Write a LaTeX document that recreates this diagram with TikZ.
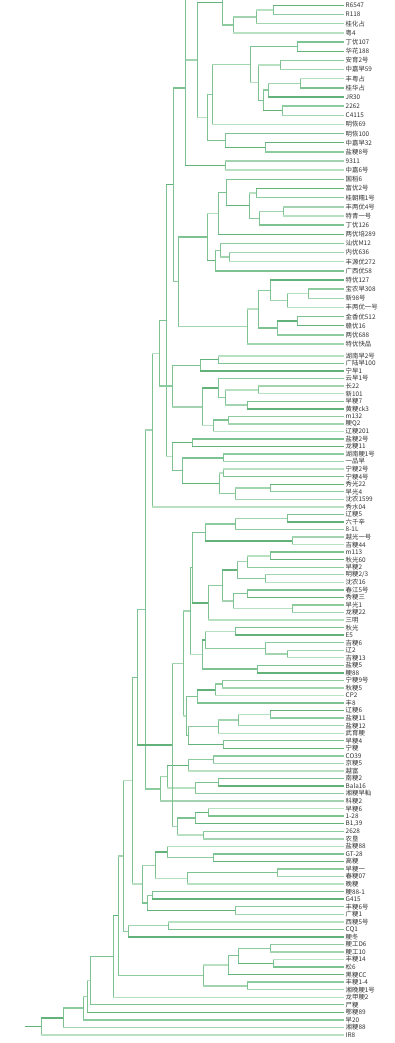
\documentclass[tikz,border=0pt]{standalone}
\usepackage{fontspec}
\newfontfamily\cjk{Noto Sans CJK SC}
\usetikzlibrary{calc}
\definecolor{g0}{RGB}{124,195,145}
\definecolor{g1}{RGB}{162,213,175}
\definecolor{g2}{RGB}{98,178,122}
\definecolor{g3}{RGB}{184,225,194}
\definecolor{g4}{RGB}{140,203,157}
\definecolor{vl}{RGB}{126,194,146}
\tikzset{
  hl/.style={line width=1.4pt},
  vline/.style={draw=vl, line width=0.8pt},
  lab/.style={font=\cjk\fontsize{6.4}{6.4}\selectfont, anchor=west, inner sep=0pt, text=black!80},
}
\newcount\jc
\newcommand\leaf[2]{%
  \pgfmathsetmacro\ly{#1<39 ? 5.5+9.15*(#1-1) : 356+7.544*(#1-39)}%
  \coordinate (L#1) at (344,\ly);%
  \node[lab] (T#1) at (345.5,\ly) {#2};%
  \pgfmathtruncatemacro\cc{mod(#1*7,5)}%
  \expandafter\xdef\csname cc L#1\endcsname{g\cc}%
}
\newcommand\jn[4]{%
  \coordinate (M#1) at ($(#3)!.5!(#4)$);%
  \coordinate (X#1) at (#2,0);%
  \coordinate (#1) at (M#1 -| X#1);%
  \draw[vline] (#3 -| X#1) -- (#4 -| X#1);%
  \edef\tmpa{\csname cc #3\endcsname}\edef\tmpb{\csname cc #4\endcsname}%
  \draw[hl, draw=\tmpa] (#3 -| X#1) -- (#3);%
  \draw[hl, draw=\tmpb] (#4 -| X#1) -- (#4);%
  \global\advance\jc by 1
  \pgfmathtruncatemacro\cc{mod(\the\jc*3,5)}%
  \expandafter\xdef\csname cc #1\endcsname{g\cc}%
}
\begin{document}
\begin{tikzpicture}[x=1pt,y=-1pt]
\useasboundingbox (0,0) rectangle (394,1043);
\fill[white] (0,0) rectangle (394,1043);
\clip (0,0) rectangle (394,1043);
\coordinate (P1) at (344,-20); \expandafter\xdef\csname cc P1\endcsname{g0}
\coordinate (P2) at (344,-40); \expandafter\xdef\csname cc P2\endcsname{g1}
\leaf{1}{R6547}
\leaf{2}{R118}
\leaf{3}{桂化占}
\leaf{4}{粤4}
\leaf{5}{丁优107}
\leaf{6}{华花188}
\leaf{7}{安育2号}
\leaf{8}{中嘉早59}
\leaf{9}{丰粤占}
\leaf{10}{桂华占}
\leaf{11}{JR30}
\leaf{12}{2262}
\leaf{13}{C4115}
\leaf{14}{明恢69}
\leaf{15}{明恢100}
\leaf{16}{中嘉早32}
\leaf{17}{盐粳8号}
\leaf{18}{9311}
\leaf{19}{中嘉6号}
\leaf{20}{国稻6}
\leaf{21}{富优2号}
\leaf{22}{桂朝糯1号}
\leaf{23}{丰两优4号}
\leaf{24}{特青一号}
\leaf{25}{丁优126}
\leaf{26}{两优培289}
\leaf{27}{汕优M12}
\leaf{28}{内优636}
\leaf{29}{丰源优272}
\leaf{30}{广西优58}
\leaf{31}{特优127}
\leaf{32}{宝农早308}
\leaf{33}{新98号}
\leaf{34}{丰两优一号}
\leaf{35}{金香优512}
\leaf{36}{赣优16}
\leaf{37}{两优688}
\leaf{38}{特优快品}
\leaf{39}{湖南早2号}
\leaf{40}{广陆早100}
\leaf{41}{宁早1}
\leaf{42}{云早1号}
\leaf{43}{长22}
\leaf{44}{新101}
\leaf{45}{早粳7}
\leaf{46}{黄粳ck3}
\leaf{47}{m132}
\leaf{48}{粳Q2}
\leaf{49}{辽粳201}
\leaf{50}{盐粳2号}
\leaf{51}{龙粳11}
\leaf{52}{湖南粳1号}
\leaf{53}{一品早}
\leaf{54}{宁粳2号}
\leaf{55}{宁粳4号}
\leaf{56}{秀光22}
\leaf{57}{早光4}
\leaf{58}{沈农1599}
\leaf{59}{秀水04}
\leaf{60}{辽粳5}
\leaf{61}{六千辛}
\leaf{62}{8-1L}
\leaf{63}{越光一号}
\leaf{64}{吉粳44}
\leaf{65}{m113}
\leaf{66}{秋光60}
\leaf{67}{早粳2}
\leaf{68}{明粳2/3}
\leaf{69}{沈农16}
\leaf{70}{春江5号}
\leaf{71}{秀粳三}
\leaf{72}{早光1}
\leaf{73}{龙粳22}
\leaf{74}{三明}
\leaf{75}{秋光}
\leaf{76}{E5}
\leaf{77}{吉粳6}
\leaf{78}{辽2}
\leaf{79}{吉粳13}
\leaf{80}{盐粳5}
\leaf{81}{粳88}
\leaf{82}{宁粳9号}
\leaf{83}{秋粳5}
\leaf{84}{CP2}
\leaf{85}{丰8}
\leaf{86}{辽粳6}
\leaf{87}{盐粳11}
\leaf{88}{盐粳12}
\leaf{89}{武育粳}
\leaf{90}{早粳4}
\leaf{91}{宁粳}
\leaf{92}{CO39}
\leaf{93}{京粳5}
\leaf{94}{越富}
\leaf{95}{南粳2}
\leaf{96}{Bala16}
\leaf{97}{湘粳早籼}
\leaf{98}{科粳2}
\leaf{99}{早粳6}
\leaf{100}{1-28}
\leaf{101}{B1,39}
\leaf{102}{2628}
\leaf{103}{农垦}
\leaf{104}{盐粳88}
\leaf{105}{GT-28}
\leaf{106}{高粳}
\leaf{107}{早粳一}
\leaf{108}{春粳07}
\leaf{109}{晚粳}
\leaf{110}{粳88-1}
\leaf{111}{G415}
\leaf{112}{丰粳6号}
\leaf{113}{广粳1}
\leaf{114}{西粳5号}
\leaf{115}{CQ1}
\leaf{116}{粳冬}
\leaf{117}{粳工D6}
\leaf{118}{粳工10}
\leaf{119}{丰粳14}
\leaf{120}{松6}
\leaf{121}{黑粳CC}
\leaf{122}{丰粳1-4}
\leaf{123}{湘晚粳1号}
\leaf{124}{龙甲粳2}
\leaf{125}{尸粳}
\leaf{126}{鄂粳89}
\leaf{127}{早20}
\leaf{128}{湘粳88}
\leaf{129}{IR8}
% region A
\jn{a1}{273}{L1}{L2}
\jn{a2}{256}{a1}{L3}
\jn{a3}{233}{a2}{L4}
\jn{a4}{222}{P1}{a3}
\jn{c1}{297}{L5}{L6}
\jn{d1}{280}{L7}{L8}
\jn{d2}{300}{L9}{L10}
\jn{d3}{268}{d2}{L11}
\jn{d4}{282}{L12}{L13}
\jn{d5}{263}{d3}{d4}
\jn{d6}{258}{d1}{d5}
\jn{c2}{250}{c1}{d6}
\jn{e1}{212}{c2}{L14}
\jn{e2}{265}{L16}{L17}
\jn{e3}{225}{L15}{e2}
\jn{e4}{207}{e1}{e3}
\jn{a5}{197}{a4}{e4}
\jn{g1}{185}{P2}{a5}
\jn{f1}{225}{L18}{L19}
\jn{g2}{185}{g1}{f1}
% region B
\jn{b1}{256}{L21}{L22}
\jn{b2}{283}{L23}{L24}
\jn{b3}{259}{b2}{L25}
\jn{b4}{249}{b1}{b3}
\jn{b5}{226}{L20}{b4}
\jn{b6}{218}{b5}{L26}
\jn{b7}{229}{L28}{L29}
\jn{b8}{220}{L27}{b7}
\jn{b9}{215}{b8}{L30}
\jn{b10}{207}{b6}{b9}
\jn{b11}{308}{L32}{L33}
\jn{b12}{287}{b11}{L34}
\jn{b13}{270}{L31}{b12}
\jn{b14}{297}{L35}{L36}
\jn{b15}{277}{b14}{L37}
\jn{b16}{258}{b13}{b15}
\jn{b17}{247}{b16}{L38}
\jn{b18}{178}{b10}{b17}
% region C
\jn{k1}{218}{L39}{L40}
\jn{k2}{200}{k1}{L41}
\jn{k3}{258}{L43}{L44}
\jn{k4}{247}{L45}{L46}
\jn{k5}{225}{k3}{k4}
\jn{k6}{218}{L42}{k5}
\jn{k7}{228}{L47}{L48}
\jn{k8}{213}{k7}{L49}
\jn{k9}{202}{k6}{k8}
\jn{k10}{172}{k2}{k9}
\jn{k11}{192}{L50}{L51}
\jn{k12}{223}{L52}{L53}
\jn{k13}{223}{L54}{L55}
\jn{k14}{270}{L56}{L57}
\jn{k15}{235}{k14}{L58}
\jn{k16}{219}{k13}{k15}
\jn{k17}{182}{k12}{k16}
\jn{k18}{172}{k11}{k17}
% region D
\jn{m1}{287}{L60}{L61}
\jn{m2}{235}{m1}{L62}
\jn{m3}{292}{L63}{L64}
\jn{m4}{205}{m2}{m3}
\jn{m5}{270}{L65}{L66}
\jn{m6}{247}{m5}{L67}
\jn{m7}{265}{L68}{L69}
\jn{m8}{237}{m6}{m7}
\jn{m9}{247}{L70}{L71}
\jn{m10}{292}{L72}{L73}
\jn{m11}{233}{m9}{m10}
\jn{m12}{222}{m8}{m11}
\jn{m13}{208}{m12}{L74}
\jn{m14}{192}{m4}{m13}
\jn{m15}{235}{L75}{L76}
\jn{m16}{287}{L78}{L79}
\jn{m17}{265}{L77}{m16}
\jn{m18}{205}{m15}{m17}
\jn{m19}{257}{L80}{L81}
\jn{m20}{202}{m18}{m19}
\jn{m21}{190}{m14}{m20}
\jn{m22}{222}{L82}{L83}
\jn{m23}{215}{m22}{L84}
\jn{m24}{197}{m23}{L85}
\jn{m25}{270}{L86}{L87}
\jn{m26}{238}{m25}{L88}
\jn{m27}{218}{m26}{L89}
\jn{m28}{223}{L90}{L91}
\jn{m29}{188}{m27}{m28}
\jn{m30}{186}{m24}{m29}
\jn{m31}{183}{m21}{m30}
\jn{m32}{213}{L92}{L93}
\jn{m33}{188}{m32}{L94}
% region E
\jn{n1}{218}{L95}{L96}
\jn{n2}{195}{n1}{L97}
\jn{n3}{167}{m33}{n2}
\jn{n4}{160}{n3}{L98}
\jn{n5}{208}{L99}{L100}
\jn{n6}{195}{n5}{L101}
\jn{n7}{203}{L102}{L103}
\jn{n8}{177}{n6}{n7}
\jn{n9}{213}{L105}{L106}
\jn{n10}{167}{L104}{n9}
\jn{n11}{277}{L107}{L108}
\jn{n12}{187}{n11}{L109}
\jn{n13}{155}{n10}{n12}
\jn{n14}{152}{L110}{L111}
\jn{n15}{235}{L112}{L113}
\jn{n16}{147}{n14}{n15}
\jn{n17}{142}{n13}{n16}
\jn{n19}{168}{L114}{L115}
\jn{n20}{128}{n19}{L116}
% spine
\jn{S1}{173}{g2}{b18}
\jn{T1}{166}{S1}{k18}
\jn{T2}{159}{T1}{k10}
\jn{T3}{152}{T2}{L59}
\jn{T4}{145}{T3}{n4}
\jn{U1}{172}{m31}{n8}
\jn{T5}{137}{T4}{U1}
\jn{T6}{132}{T5}{n17}
\jn{T7}{123}{T6}{n20}
% bottom
\jn{q1}{270}{L117}{L118}
\jn{q2}{273}{L119}{L120}
\jn{q3}{238}{q1}{q2}
\jn{q4}{228}{q3}{L121}
\jn{q5}{247}{L122}{L123}
\jn{q6}{203}{q4}{q5}
\jn{z1}{118}{T7}{q6}
\jn{z2}{113}{z1}{L124}
\jn{z3}{90}{z2}{L125}
\jn{z4}{87}{z3}{L126}
\jn{z5}{83}{z4}{L127}
\jn{z6}{63}{z5}{L128}
\jn{z7}{41}{z6}{L129}
\coordinate (R0) at (25,0);
\draw[hl, draw=g2] (z7 -| R0) -- (z7);
\end{tikzpicture}
\end{document}
